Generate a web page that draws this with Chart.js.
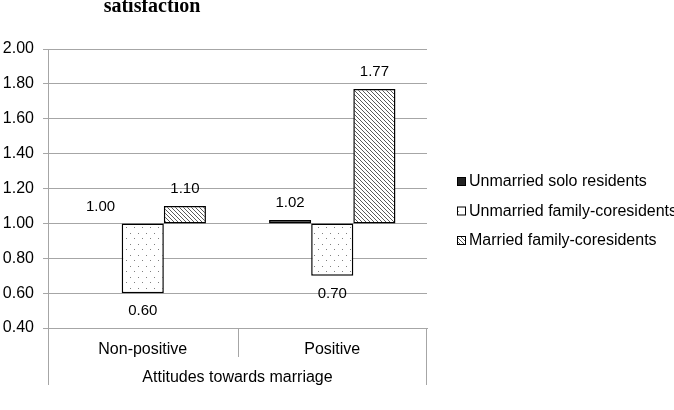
<!DOCTYPE html>
<html>
<head>
<meta charset="utf-8">
<script src="https://cdn.jsdelivr.net/npm/chart.js@4"></script>
<style>
  html, body { margin: 0; padding: 0; background: #fff; }
  #wrap { width: 674px; height: 410px; }
</style>
</head>
<body>
<div id="wrap"><canvas id="barChart" width="674" height="410"></canvas></div>
<script>
// data
var categories = ['Non-positive', 'Positive'];
var seriesNames = ['Unmarried solo residents', 'Unmarried family-coresidents', 'Married family-coresidents'];
var soloValues = [1.00, 1.02];
var familyValues = [0.60, 0.70];
var marriedValues = [1.10, 1.77];
var baseline = 1.00; // bars grow from the 1.00 line
var yTicks = [0.40, 0.60, 0.80, 1.00, 1.20, 1.40, 1.60, 1.80, 2.00];

var gridGray = '#a6a6a6';
var font = "'Liberation Sans', Arial, sans-serif";

function floating(vals) {
  return vals.map(function (v) { return [baseline, v]; });
}

// fill patterns
function dotPattern() {
  var c = document.createElement('canvas');
  c.width = 8; c.height = 11;
  var g = c.getContext('2d');
  g.fillStyle = '#fff'; g.fillRect(0, 0, 8, 11);
  g.fillStyle = '#808080';
  g.fillRect(2, 2, 1, 1);
  g.fillRect(6, 7, 1, 1);
  return g.createPattern(c, 'repeat');
}
function hatchPattern() {
  var c = document.createElement('canvas');
  c.width = 4; c.height = 4;
  var g = c.getContext('2d');
  g.fillStyle = '#fff'; g.fillRect(0, 0, 4, 4);
  g.strokeStyle = '#5a5a5a'; g.lineWidth = 1;
  g.beginPath();
  g.moveTo(-1, -1); g.lineTo(5, 5);
  g.moveTo(-1, 3); g.lineTo(1, 5);
  g.moveTo(3, -1); g.lineTo(5, 1);
  g.stroke();
  return g.createPattern(c, 'repeat');
}

var extras = {
  id: 'extras',
  afterDraw: function (chart) {
    var ctx = chart.ctx, a = chart.chartArea, x = chart.scales.x;
    ctx.save();
    // category axis frame
    ctx.strokeStyle = gridGray; ctx.lineWidth = 1;
    ctx.beginPath();
    ctx.moveTo(Math.round(a.left) + 0.5, a.bottom); ctx.lineTo(Math.round(a.left) + 0.5, a.bottom + 57);
    ctx.moveTo(Math.round(a.right) - 0.5, a.bottom); ctx.lineTo(Math.round(a.right) - 0.5, a.bottom + 57);
    var mid = Math.round((x.getPixelForValue(0) + x.getPixelForValue(1)) / 2) + 0.5;
    ctx.moveTo(mid, a.bottom); ctx.lineTo(mid, a.bottom + 29);
    ctx.stroke();

    // value labels
    ctx.fillStyle = '#000';
    ctx.font = '15px ' + font;
    ctx.textAlign = 'center'; ctx.textBaseline = 'middle';
    chart.data.datasets.forEach(function (ds, i) {
      chart.getDatasetMeta(i).data.forEach(function (bar, j) {
        var v = ds.data[j][1];
        var y = v >= baseline ? Math.min(bar.y, bar.base) - 17 : Math.max(bar.y, bar.base) + 18;
        ctx.fillText(v.toFixed(2), bar.x, y);
      });
    });

    // legend
    ctx.font = '16px ' + font;
    ctx.textAlign = 'left';
    chart.data.datasets.forEach(function (ds, i) {
      var cy = 182 + i * 29.5;
      ctx.fillStyle = ds.backgroundColor;
      ctx.fillRect(457, cy - 5, 9, 9);
      ctx.strokeStyle = '#000'; ctx.lineWidth = 1;
      ctx.strokeRect(457.5, cy - 4.5, 8, 8);
      ctx.fillStyle = '#000';
      ctx.fillText(ds.label, 469, cy);
    });

    // title (cut off at the top)
    ctx.font = "bold 20px 'Liberation Serif', 'Times New Roman', serif";
    ctx.textAlign = 'center'; ctx.textBaseline = 'alphabetic';
    ctx.fillText('satisfaction', 152, 12);
    ctx.restore();
  }
};

var barCanvas = document.getElementById('barChart').getContext('2d');
var barData = {
  labels: categories,
  datasets: [
    { label: seriesNames[0], data: floating(soloValues), backgroundColor: '#222', borderColor: '#000', borderWidth: 1.5 },
    { label: seriesNames[1], data: floating(familyValues), backgroundColor: dotPattern(), borderColor: '#000', borderWidth: 1.5 },
    { label: seriesNames[2], data: floating(marriedValues), backgroundColor: hatchPattern(), borderColor: '#000', borderWidth: 1.5 }
  ]
};

new Chart(barCanvas, {
  type: 'bar',
  data: barData,
  options: {
    responsive: false,
    animation: false,
    borderSkipped: false,
    categoryPercentage: 0.667,
    barPercentage: 1.0,
    layout: { padding: { left: 0, top: 49, right: 247, bottom: 0 } },
    plugins: { legend: { display: false }, tooltip: { enabled: false } },
    scales: {
      x: {
        grid: { display: false },
        border: { display: true, color: gridGray },
        ticks: { color: '#000', font: { family: font, size: 16 }, padding: 4 },
        title: { display: true, text: 'Attitudes towards marriage', color: '#000', font: { family: font, size: 16 }, padding: { top: 0, bottom: 23 } },
        afterFit: function (s) { s.height = 82; }
      },
      y: {
        min: yTicks[0],
        max: yTicks[yTicks.length - 1],
        afterBuildTicks: function (s) { s.ticks = yTicks.map(function (v) { return { value: v }; }); },
        grid: { color: gridGray, tickLength: 5 },
        border: { display: true, color: gridGray },
        ticks: { color: '#000', font: { family: font, size: 16 }, padding: 9, callback: function (v) { return Number(v).toFixed(2); } },
        afterFit: function (s) { s.width = 48; }
      }
    }
  },
  plugins: [extras]
});
</script>
</body>
</html>
